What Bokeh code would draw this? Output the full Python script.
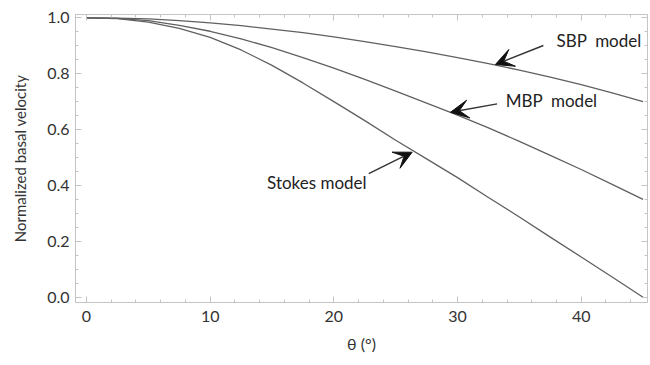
from bokeh.plotting import figure
from bokeh.models import (LinearAxis, Label, Arrow, VeeHead, Range1d, FixedTicker,
                          CustomLabelingPolicy)
from bokeh.embed import file_html
from bokeh.resources import INLINE

# ---- data ----
theta = [0, 2.5, 5, 7.5, 10, 12.5, 15, 17.5, 20, 22.5, 25, 27.5, 30, 32.5, 35, 37.5, 40, 42.5, 45]
sbp = [1.0, 0.999, 0.996, 0.990, 0.982, 0.972, 0.960, 0.947, 0.932, 0.915, 0.897, 0.878,
       0.858, 0.836, 0.813, 0.788, 0.761, 0.731, 0.700]
mbp = [1.0, 0.998, 0.990, 0.973, 0.952, 0.925, 0.893, 0.858, 0.820, 0.780, 0.738, 0.695,
       0.652, 0.606, 0.558, 0.508, 0.457, 0.404, 0.350]
stokes = [1.0, 0.997, 0.985, 0.962, 0.930, 0.885, 0.830, 0.767, 0.700, 0.632, 0.562, 0.495,
          0.428, 0.357, 0.287, 0.215, 0.144, 0.072, 0.0]

x_ticks = [0, 10, 20, 30, 40]
x_minor = [0, 2, 4, 6, 8, 10, 12, 14, 16, 18, 20, 22, 24, 26, 28, 30, 32, 34, 36, 38, 40, 42, 44]
y_ticks = [0.0, 0.2, 0.4, 0.6, 0.8, 1.0]
y_minor = [0.0, 0.05, 0.1, 0.15, 0.2, 0.25, 0.3, 0.35, 0.4, 0.45, 0.5, 0.55, 0.6, 0.65,
           0.7, 0.75, 0.8, 0.85, 0.9, 0.95, 1.0]
y_tick_labels = {0.0: "0.0", 0.2: "0.2", 0.4: "0.4", 0.6: "0.6", 0.8: "0.8", 1.0: "1.0"}

labels = ["SBP\u00a0 model", "MBP\u00a0 model", "Stokes model"]
label_pos = [(38.0, 0.919), (33.9, 0.704), (14.6, 0.412)]
arrow_pos = [(36.94, 0.901, 33.06, 0.833), (33.2, 0.692, 29.43, 0.662), (22.82, 0.442, 26.33, 0.519)]

FONT = "Lato"
FRAME = "#c4c4c4"
TXT = "#333333"

p = figure(width=650, height=365, output_backend="svg", toolbar_location=None,
           x_range=Range1d(-0.89, 45.36), y_range=Range1d(-0.019, 1.012),
           min_border_left=75, min_border_right=3, min_border_top=14, min_border_bottom=63)
p.grid.visible = False
p.outline_line_color = FRAME
p.background_fill_color = "white"
p.border_fill_color = "white"

xt = FixedTicker(ticks=x_ticks, minor_ticks=x_minor)
yt = FixedTicker(ticks=y_ticks, minor_ticks=y_minor)


def style(ax, show_labels):
    ax.axis_line_color = FRAME
    ax.major_tick_line_color = FRAME
    ax.minor_tick_line_color = FRAME
    ax.major_tick_in = 6
    ax.major_tick_out = 0
    ax.minor_tick_in = 3
    ax.minor_tick_out = 0
    if show_labels:
        ax.major_label_text_font = FONT
        ax.major_label_text_font_size = "16px"
        ax.major_label_text_color = TXT
    else:
        ax.major_label_text_font_size = "0px"
        ax.major_label_standoff = 0
        ax.major_label_policy = CustomLabelingPolicy(
            code="for (const i of [...indices]) { indices.unset(i) }\nreturn indices")


p.xaxis.ticker = xt
p.yaxis.ticker = yt
p.yaxis.major_label_overrides = y_tick_labels
style(p.xaxis[0], True)
style(p.yaxis[0], True)
p.xaxis.major_label_standoff = 8
p.yaxis.major_label_standoff = 6

p.xaxis.axis_label = "θ (°)"
p.yaxis.axis_label = "Normalized basal velocity"
for ax in (p.xaxis[0], p.yaxis[0]):
    ax.axis_label_text_font = FONT
    ax.axis_label_text_font_style = "normal"
    ax.axis_label_text_color = TXT
p.xaxis.axis_label_text_font_size = "16px"
p.yaxis.axis_label_text_font_size = "15px"
p.xaxis.axis_label_standoff = 9
p.yaxis.axis_label_standoff = 15

top = LinearAxis(ticker=xt)
style(top, False)
p.add_layout(top, "above")
right = LinearAxis(ticker=yt)
style(right, False)
p.add_layout(right, "right")

for ys in (sbp, mbp, stokes):
    p.line(theta, ys, line_color="#606060", line_width=1.3)

for txt, (lx, ly) in zip(labels, label_pos):
    p.add_layout(Label(x=lx, y=ly, text=txt, text_baseline="middle", text_align="left",
                       text_font=FONT, text_font_size="17px", text_color="#222222"))

for (xs, ys, xe, ye) in arrow_pos:
    p.add_layout(Arrow(x_start=xs, y_start=ys, x_end=xe, y_end=ye,
                       line_color="#333333", line_width=1.4,
                       end=VeeHead(size=18, fill_color="#111111", line_color="#111111", line_width=1)))

open("out.html", "w").write(file_html(p, INLINE))
